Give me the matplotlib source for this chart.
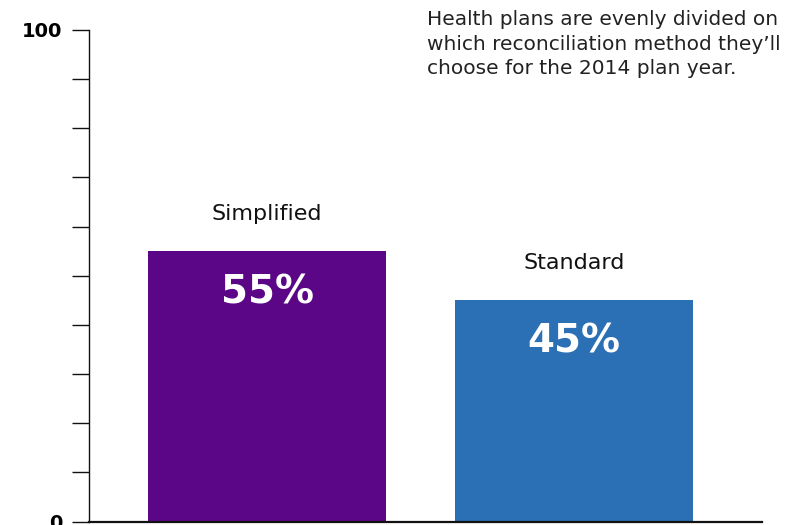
import matplotlib.pyplot as plt

# data
methods = ['Simplified', 'Standard']
shares = [55, 45]
bar_colors = ['#5B0687', '#2B6FB5']
note = ("Health plans are evenly divided on\n"
        "which reconciliation method they\u2019ll\n"
        "choose for the 2014 plan year.")

plt.rcParams['font.family'] = ['DejaVu Sans']

fig = plt.figure(figsize=(7.98, 5.25), dpi=100)
ax = fig.add_axes([89 / 798, 3.5 / 525, (762 - 89) / 798, (521.5 - 30) / 525])

x = list(range(len(methods)))
ax.bar(x, shares, width=238 / 307, color=bar_colors)

for xi, name, val in zip(x, methods, shares):
    ax.annotate(name, (xi, val), xytext=(0, 27), textcoords='offset points',
                ha='center', va='center', fontsize=16, color='#111111')
    ax.annotate(f'{val}%', (xi, val), xytext=(0, -30), textcoords='offset points',
                ha='center', va='center', fontsize=28, fontweight='bold', color='white')

ax.set_xlim(-178 / 307, (762 - 267) / 307)
ax.set_ylim(0, 100)
ax.set_xticks([])
ax.set_yticks(range(0, 101, 10))
ax.set_yticklabels(['0'] + [''] * 9 + ['100'], fontsize=14, fontweight='bold')
ax.tick_params(axis='y', length=12, width=1.0, pad=7, color='#111111')

for s in ['top', 'right']:
    ax.spines[s].set_visible(False)
ax.spines['left'].set_linewidth(1.0)
ax.spines['bottom'].set_linewidth(1.6)
ax.spines['left'].set_color('#111111')
ax.spines['bottom'].set_color('#111111')

fig.text(427 / 798, 1 - 10 / 525, note, ha='left', va='top', fontsize=14.5,
         linespacing=1.38, color='#222222')

fig.savefig('out.png', dpi=100)
